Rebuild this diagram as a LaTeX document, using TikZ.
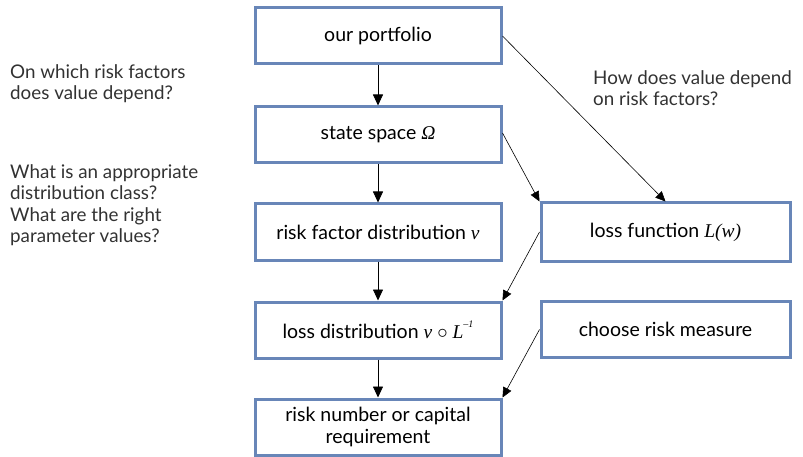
\documentclass[tikz,border=0pt]{standalone}
\usepackage{fontspec}
\setmainfont{Lato}
\newfontfamily\mathserif{Liberation Serif}
\usetikzlibrary{arrows.meta}
\definecolor{boxblue}{RGB}{104,134,184}
\definecolor{sidegray}{RGB}{50,50,50}
\tikzset{
  box/.style={draw=boxblue, line width=3pt, fill=white, minimum width=246pt, minimum height=56pt,
    align=center, font=\fontsize{19.5}{22}\selectfont, inner sep=2pt},
  conn/.style={-{Triangle[length=11pt,width=10pt]}, line width=0.8pt},
  dconn/.style={-{Triangle[length=10pt,width=9pt]}, line width=0.6pt},
  side/.style={anchor=north west, align=left, text=sidegray, font=\fontsize{18.8}{21.5}\selectfont, inner sep=0pt}
}
\newcommand{\mi}[1]{{\mathserif\itshape #1}}
\begin{document}
\begin{tikzpicture}[x=1pt,y=-1pt]
\useasboundingbox (0,0) rectangle (803,457);
\node[box] (p) at (378,36) {our portfolio};
\node[box] (s) at (378,135) {state space \mi{Ω}};
\node[box] (r) at (378,232) {risk factor distribution \mi{ν}};
\node[box] (d) at (378,330) {loss distribution \mi{ν} $\circ$ \mi{L}\raisebox{0.55em}{\mi{\fontsize{10}{10}\selectfont –1}}};
\node[box] (n) at (378,427) {risk number or capital\\requirement};
\node[box, minimum width=249pt, minimum height=58pt] (f) at (665.5,232) {loss function \mi{L(w)}};
\node[box, minimum width=249pt] (c) at (665.5,329.5) {choose risk measure};
\draw[conn] (p.south) -- (s.north);
\draw[conn] (s.south) -- (r.north);
\draw[conn] (r.south) -- (d.north);
\draw[conn] (d.south) -- (n.north);
\draw[dconn] (p.east) -- (f.north);
\draw[dconn] ([yshift=2pt]s.east) -- (f.north west);
\draw[dconn] (f.west) -- (d.north east);
\draw[dconn] (c.west) -- (n.north east);
\node[side] (t1) at (10,64) {On which risk factors\\does value depend?};
\node[side] (t2) at (10,164) {What is an appropriate\\distribution class?\\What are the right\\parameter values?};
\node[side] (t3) at (593,70) {How does value depend\\on risk factors?};
\end{tikzpicture}
\end{document}
